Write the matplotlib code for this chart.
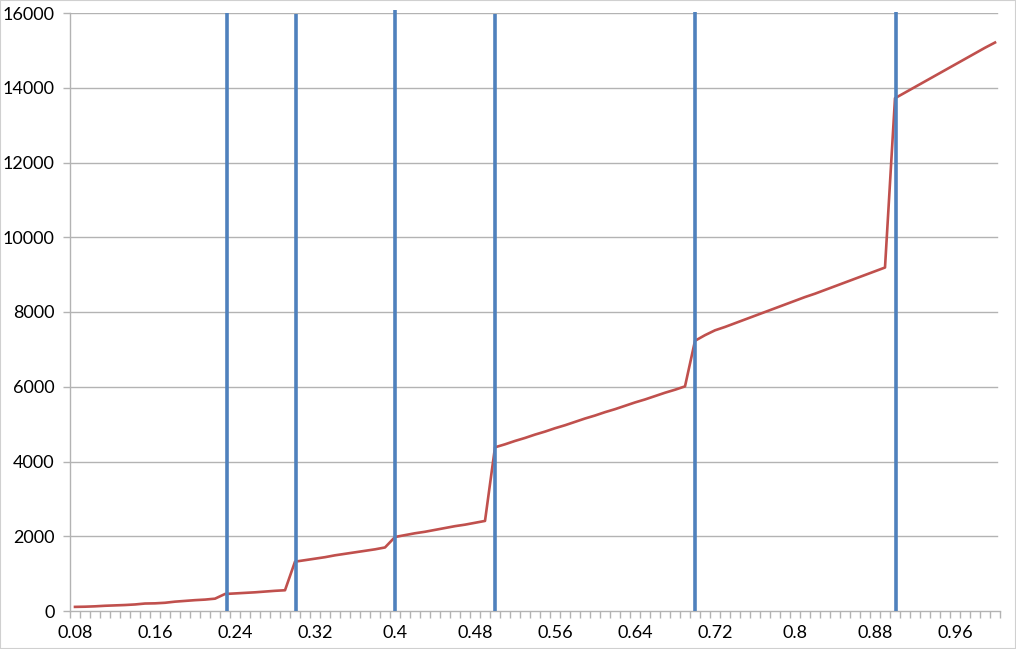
import matplotlib
matplotlib.use("Agg")
import matplotlib.pyplot as plt
from matplotlib.ticker import FixedLocator
from matplotlib.patches import Rectangle

# categories 0.08 .. 1.00
categories = [round(0.08 + 0.01 * i, 2) for i in range(93)]

values = [
    # 0.08 - 0.22
    110, 115, 125, 140, 150, 160, 175, 200, 205, 220, 250, 270, 290, 305, 330,
    # 0.23 - 0.29
    455, 470, 485, 500, 520, 540, 555,
    # 0.30 - 0.39
    1320, 1360, 1400, 1440, 1490, 1530, 1570, 1610, 1650, 1700,
    # 0.40 - 0.49
    1980, 2030, 2080, 2120, 2170, 2220, 2270, 2310, 2360, 2410,
    # 0.50 - 0.69
    4380, 4460, 4550, 4630, 4720, 4800, 4890, 4970, 5060, 5150,
    5230, 5320, 5400, 5490, 5580, 5660, 5750, 5840, 5920, 6010,
    # 0.70 - 0.89
    7230, 7380, 7510, 7600, 7700, 7800, 7900, 8000, 8100, 8200,
    8300, 8400, 8490, 8590, 8690, 8790, 8890, 8990, 9090, 9190,
    # 0.90 - 1.00
    13720, 13870, 14020, 14170, 14320, 14470, 14620, 14770, 14920, 15070, 15210,
]

vline_x = [0.232, 0.301, 0.40, 0.50, 0.70, 0.901]
vline_top = [16000, 15980, 16080, 15970, 16030, 16030]

y_ticks = [0, 2000, 4000, 6000, 8000, 10000, 12000, 14000, 16000]
x_label_every = 8

plt.rcParams['font.family'] = ['Lato', 'DejaVu Sans']

fig = plt.figure(figsize=(10.16, 6.49), dpi=100)
ax = fig.add_axes([70 / 1016, 38 / 649, 930 / 1016, 598 / 649])

idx = list(range(len(categories)))

def to_idx(v):
    return (v - categories[0]) / 0.01

grid_c = '#b3b3b3'
for t in y_ticks[1:]:
    ax.axhline(t, color=grid_c, lw=1.0, zorder=1, xmax=927 / 930)

ax.plot(idx, values, color='#c0504d', lw=1.9, zorder=3)

for xv, top in zip(vline_x, vline_top):
    ax.vlines(to_idx(xv), 0, top, color='#4f81bd', lw=2.6, zorder=4, clip_on=False)

ax.set_xlim(-0.5, len(categories) - 0.5)
ax.set_ylim(0, 16000)

ax.set_yticks(y_ticks)
ax.set_yticklabels([str(t) for t in y_ticks])

major_pos = idx[::x_label_every]
ax.xaxis.set_major_locator(FixedLocator(major_pos))
ax.set_xticklabels([f"{categories[i]:g}" for i in major_pos])
ax.xaxis.set_minor_locator(FixedLocator([i - 0.5 for i in range(len(categories) + 1)]))

ax.tick_params(axis='x', which='major', length=0, pad=10, labelsize=13, colors='black')
ax.tick_params(axis='x', which='minor', length=5, width=1, color=grid_c, direction='out')
ax.tick_params(axis='y', which='major', length=5, width=1, color=grid_c, direction='out',
               labelsize=13, pad=6)

for s in ['top', 'right']:
    ax.spines[s].set_visible(False)
for s in ['left', 'bottom']:
    ax.spines[s].set_color(grid_c)
    ax.spines[s].set_linewidth(1.0)

fig.patches.append(Rectangle((0, 0), 1, 1, transform=fig.transFigure, fill=False,
                             edgecolor='#d0d0d0', lw=1.5))

fig.savefig('out.png', dpi=100)
